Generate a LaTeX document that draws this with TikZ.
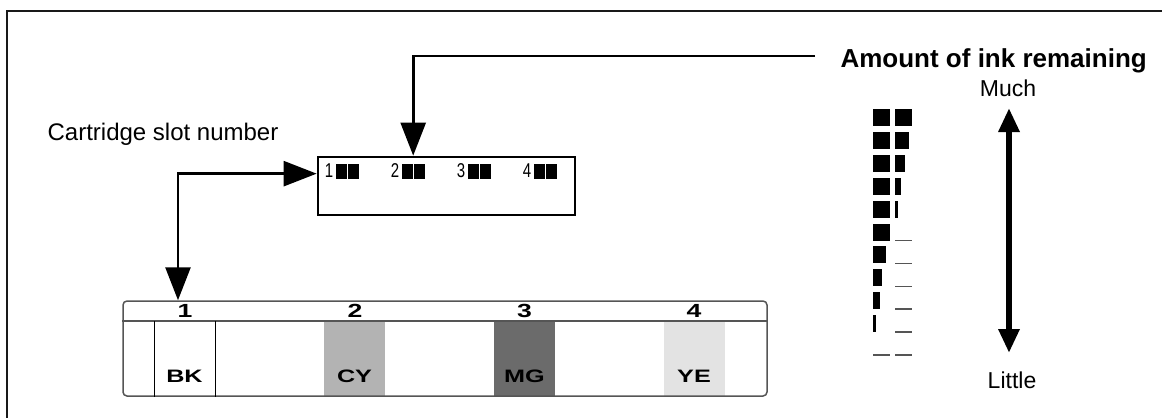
\documentclass[tikz,border=0pt]{standalone}
\usepackage{fontspec}
\setmainfont{Liberation Sans}
\usepackage{graphicx}
\usetikzlibrary{arrows.meta,positioning,calc}

\definecolor{inkcy}{HTML}{B3B3B3}
\definecolor{inkmg}{HTML}{6B6B6B}
\definecolor{inkye}{HTML}{E3E3E3}
\definecolor{trayline}{HTML}{555555}
\newcommand{\widelbl}[1]{\scalebox{1.4}[1]{#1}}
\newcommand{\narrowlbl}[1]{\scalebox{0.75}[1]{#1}}

\begin{document}
\begin{tikzpicture}[x=1pt,y=-1pt,
  every node/.style={inner sep=0pt, font=\fontsize{23}{27}\selectfont},
  hdr/.style  ={font=\fontsize{19}{22}\selectfont\bfseries},
  ink/.style  ={font=\fontsize{18}{21}\selectfont\bfseries},
  digit/.style={font=\fontsize{20}{24}\selectfont},
  seg/.style  ={fill=black, minimum width=11pt, minimum height=15pt},
  disp/.style ={draw, line width=2.7pt, minimum width=257pt, minimum height=58pt},
  tray/.style ={draw=trayline, line width=1.5pt, rounded corners=4pt,
                minimum width=644pt, minimum height=95pt},
  colbox/.style={minimum width=61pt, minimum height=75pt},
  arr/.style  ={-{Triangle[length=33pt,width=25pt]}, line width=2.6pt},
  dblarr/.style={{Triangle[length=33pt,width=25pt]}-{Triangle[length=33pt,width=25pt]},
                line width=2.6pt},
  lvlarr/.style={{Triangle[length=24pt,width=20pt]}-{Triangle[length=24pt,width=20pt]},
                line width=6.5pt},
  lvldash/.style={draw=trayline, line width=1.5pt}
]
\useasboundingbox (0,0) rectangle (1162,418);

% Frame
\draw[line width=2.7pt, black!90] (1162,11) -- (7,11) -- (7,418);

% Labels
\node[anchor=base east, font=\fontsize{26}{30}\selectfont\bfseries] (amount)
     at (1147,67) {Amount of ink remaining};
\node (slotlbl) at (163,134) {\fontsize{24}{28}\selectfont Cartridge slot number};
\node (much)   at (1008,88)  {Much};
\node (little) at (1012,380) {Little};

% Display panel
\node[disp] (display) at (446.5,186) {};
\foreach \i in {1,...,4}{
  \node[digit] (dig\i) at ({329+66*(\i-1)},171) {\narrowlbl{\i}};
  \node[seg]   (s\i a) at ({341.5+66*(\i-1)},171) {};
  \node[seg, right=1pt of s\i a] (s\i b) {};
}

% Cartridge tray
\node[colbox, fill=inkcy] (colcy) at (354.5,358.5) {};
\node[colbox, fill=inkmg] (colmg) at (524.5,358.5) {};
\node[colbox, fill=inkye] (colye) at (694,358.5) {};
\node[tray] (tray) at (445,348.5) {};
\draw[trayline, line width=1.5pt] (tray.west |- 0,321) -- (tray.east |- 0,321);
\draw[line width=1pt] (154,321) -- (tray.south -| 154,0);
\draw[line width=1pt] (215,321) -- (tray.south -| 215,0);
\foreach \x/\n in {185/1,355/2,524.5/3,694/4}{
  \node[hdr] (hd\n) at (\x,311) {\widelbl{\n}};
}
\foreach \x/\t in {184.5/BK,354.5/CY,524.5/MG,694/YE}{
  \node[ink] (lbl\t) at (\x,376) {\widelbl{\t}};
}

% Ink level steps
\foreach \lw/\rw [count=\r from 0] in
  {17/17,17/14,17/10,17/6,17/3.3,17/0,13.3/0,9.3/0,6.7/0,3.3/0,0/0}{
  \pgfmathsetmacro{\yt}{109+22.9*\r}
  \ifdim\lw pt>0pt
    \fill (873,\yt) rectangle ++(\lw,17);
  \else
    \draw[lvldash] (873,{\yt+17}) -- ++(17,0);
  \fi
  \ifdim\rw pt>0pt
    \fill (895,\yt) rectangle ++(\rw,17);
  \else
    \draw[lvldash] (895,{\yt+17}) -- ++(17,0);
  \fi
}

% Arrows
\coordinate (inkstart) at (815,56);
\coordinate (lvltop) at (1009,108);
\coordinate (lvlbot) at (1009,353);
\draw[arr] (inkstart) -| (s2a.east |- display.north);
\draw[dblarr] ($(display.north west)+(0,18)$) -| (tray.north -| 178,0);
\draw[lvlarr] (lvltop) -- (lvlbot);

\end{tikzpicture}
\end{document}
